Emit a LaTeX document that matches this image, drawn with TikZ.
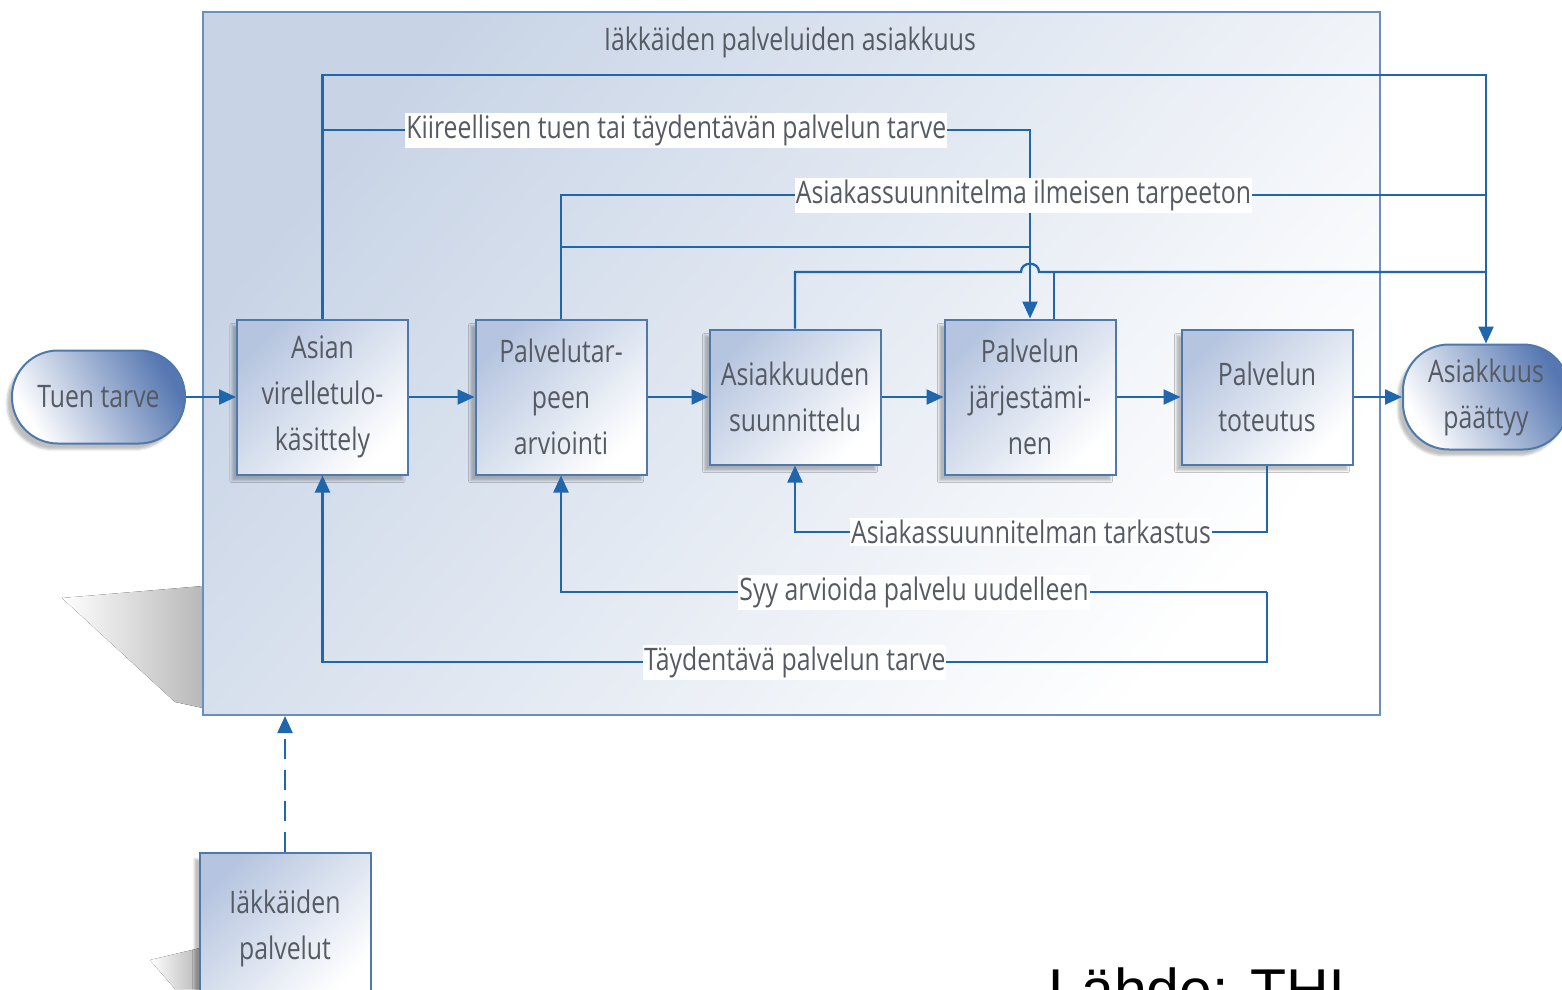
\documentclass[tikz,border=0pt]{standalone}
\usepackage{fontspec}
\setmainfont{Open Sans}[FakeStretch=0.8]
\newfontfamily\lahdefont{Liberation Sans}
\usetikzlibrary{arrows.meta,shadows.blur}
\definecolor{linec}{HTML}{1F66AC}
\definecolor{boxb}{HTML}{4F79AB}
\definecolor{txt}{HTML}{555A63}
\definecolor{boxd}{HTML}{B6C5DF}
\definecolor{pilld}{HTML}{5677B1}
\definecolor{contd}{HTML}{C8D4E6}
\definecolor{contb}{HTML}{6A8FBD}
\tikzset{
  boxfont/.style={font=\fontsize{31}{46}\selectfont, text=txt},
  procbox/.style={boxfont, draw=boxb, line width=2pt, minimum width=171pt, minimum height=155pt,
    inner sep=0pt, align=center, top color=boxd, bottom color=white, shading angle=45,
    blur shadow={shadow xshift=-5pt, shadow yshift=-6pt, shadow opacity=25}},
  pill/.style={boxfont, draw=boxb, line width=2pt, rounded corners=46pt, inner sep=0pt, align=center,
    left color=pilld, right color=white, shading angle=-60,
    blur shadow={shadow xshift=-5pt, shadow yshift=-6pt, shadow opacity=25}},
  conn/.style={draw=linec, line width=2.3pt},
  arr/.style={conn, -{Triangle[length=17pt,width=15pt]}},
  lab/.style={boxfont, fill=white, inner xsep=1pt, inner ysep=2pt}
}
\begin{document}
\begin{tikzpicture}[x=1pt,y=-1pt]
\useasboundingbox (0,0) rectangle (1562,989);
% container shadows
\fill[left color=white, right color=black!28] (62,598) -- (203,586) -- (203,708) -- (175,702) -- cycle;
\fill[left color=white, right color=black!28] (150,960) -- (200,948) -- (200,989) -- (175,989) -- cycle;
% container
\node[draw=contb, line width=2pt, minimum width=1177pt, minimum height=703pt, inner sep=0pt,
  top color=contd, bottom color=white, shading angle=50] (cont) at (791.5,363.5) {};
\node[boxfont] (title) at (790,42) {Iäkkäiden palveluiden asiakkuus};
% coordinates for line levels
\coordinate (y75) at (0,75);
\coordinate (y130) at (0,130);
\coordinate (y195) at (0,195);
\coordinate (y247) at (0,247);
\coordinate (y272) at (0,272);
\coordinate (y532) at (0,532);
\coordinate (y592) at (0,592);
\coordinate (y662) at (0,662);
% nodes
\node[pill, minimum width=173pt, minimum height=93pt] (tuen) at (98.5,397) {Tuen tarve};
\node[procbox] (asian) at (322.5,397) {Asian\\virelletulo-\\käsittely};
\node[procbox] (pal) at (561,397) {Palvelutar-\\peen\\arviointi};
\node[procbox, minimum height=135pt] (asu) at (795,397) {Asiakkuuden\\suunnittelu};
\node[procbox] (jarj) at (1030,397) {Palvelun\\järjestämi-\\nen};
\node[procbox, minimum height=135pt] (tot) at (1267,397) {Palvelun\\toteutus};
\node[pill, minimum width=166pt, minimum height=105pt] (end) at (1486,397) {Asiakkuus\\päättyy};
\node[procbox, minimum height=150pt] (ik) at (285,928) {Iäkkäiden\\palvelut};
\node[anchor=base west, font=\lahdefont\fontsize{59}{60}\selectfont, text=black] (src) at (1045,1010) {Lähde: THL};
% main flow
\draw[arr] (tuen) -- (asian);
\draw[arr] (asian) -- (pal);
\draw[arr] (pal) -- (asu);
\draw[arr] (asu) -- (jarj);
\draw[arr] (jarj) -- (tot);
\draw[arr] (tot) -- (end);
% top lines
\draw[arr] (asian.north) -- (asian.north |- y75) -- (end.north |- y75) -- (end.north);
\draw[arr] (asian.north |- y130) -- node[lab]{Kiireellisen tuen tai täydentävän palvelun tarve} (jarj.north |- y130) -- (jarj.north);
\draw[conn] (pal.north) -- (pal.north |- y195) -- node[lab]{Asiakassuunnitelma ilmeisen tarpeeton} (end.north |- y195);
\draw[conn] (pal.north |- y247) -- (jarj.north |- y247);
\coordinate (hopa) at ([xshift=-9pt]jarj.north |- y272);
\coordinate (hopb) at ([xshift=9pt]jarj.north |- y272);
\draw[conn] (asu.north) -- (asu.north |- y272) -- (hopa) .. controls ([yshift=11pt]hopa) and ([yshift=11pt]hopb) .. (hopb) -- (end.north |- y272);
\draw[conn] ([xshift=24pt]jarj.north) -- ([xshift=24pt]jarj.north |- y272);
% bottom lines
\draw[arr] (tot.south) -- (tot.south |- y532) -- node[lab]{Asiakassuunnitelman tarkastus} (asu.south |- y532) -- (asu.south);
\draw[arr] (tot.south |- y592) -- node[lab]{Syy arvioida palvelu uudelleen} (pal.south |- y592) -- (pal.south);
\draw[arr] (tot.south |- y592) -- (tot.south |- y662) -- node[lab]{Täydentävä palvelun tarve} (asian.south |- y662) -- (asian.south);
% dashed
\draw[arr, dash pattern=on 20pt off 11pt] (ik.north) -- (ik.north |- cont.south);
\end{tikzpicture}
\end{document}
